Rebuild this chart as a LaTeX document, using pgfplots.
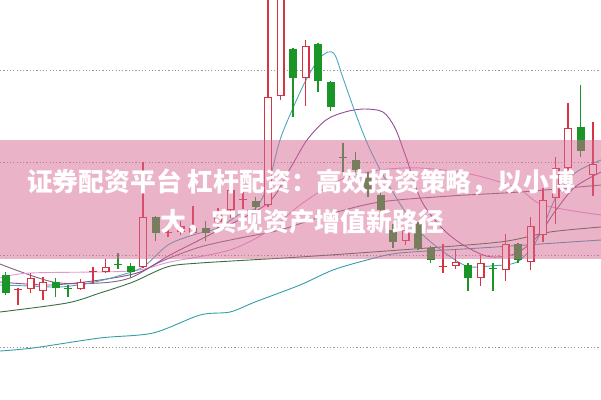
\documentclass[border=0pt]{standalone}
\usepackage{pgfplots}
\usepackage{pgfplotstable}
\pgfplotsset{compat=1.18}
\usepackage{fontspec}
\newfontfamily\cjk{Noto Sans CJK SC}

\definecolor{cred}{RGB}{214,52,66}
\definecolor{cgreen}{RGB}{26,150,40}
\definecolor{band}{RGB}{214,104,146}
\definecolor{maA}{RGB}{72,170,185}
\definecolor{maB}{RGB}{150,74,150}
\definecolor{maC}{RGB}{228,150,212}
\definecolor{maD}{RGB}{130,100,130}
\definecolor{maE}{RGB}{56,110,64}
\definecolor{maF}{RGB}{52,158,166}

% i = candle index, o h l c = open high low close
\pgfplotstableread{
i  o     h    l    c
1  109.5 112  95   110.5
2  111   127  107  122
3  109   123  100  118
6  111   121  110  118
7  127.5 133  117  128.5
8  128   141  127  133
11 133   238  132  183
13 166.5 174  163  167.5
14 168   179  165  174
15 167   194  166  172
17 178   192  172  188
18 190   217  182  210
19 199.5 208  191  200.5
21 195   410  193  303
22 304   420  300  415
24 322   360  294  354
32 159   175  155  170
35 132.5 156  127  133.5
36 134   151  131  138
38 122   145  114  137
40 130   166  119  156
42 138   183  130  174
43 165   212  158  200
44 202   243  176  232
45 232   297  229  272
47 225   278  204  236
}\up

\pgfplotstableread{
i  o     h    l    c
0  125   128  105  107
4  118   122  103  112
5  112   115  103  111
9  136   147  131  135
10 134   137  122  128
12 183   184  159  167
16 172   179  159  167
20 199   203  190  193
23 351   352  283  322
25 356   357  308  319
26 318   319  289  293
27 242.5 257  228  241.5
28 240   248  225  230
29 222   228  203  211
30 205   208  187  190
31 170   176  152  158
33 176   178  150  152
34 152   154  137  140
37 135   137  109  122
39 131.5 137  109  130.5
41 156   157  137  140
46 273   315  243  249
}\down

\begin{document}
\begin{tikzpicture}
\begin{axis}[
  width=601bp, height=400bp, scale only axis,
  xmin=0, xmax=601, ymin=0, ymax=400,
  hide axis,
  every axis plot/.append style={line join=round},
]
% keep the full frame as the picture's size
\path (rel axis cs:0,0) rectangle (rel axis cs:1,1);

% dotted grid lines
\addplot[gray!80, line width=1bp, dash pattern=on 1.2bp off 2.1bp]
  coordinates {(0,329) (601,329)};
\addplot[gray!80, line width=1bp, dash pattern=on 1.2bp off 2.1bp]
  coordinates {(0,237) (601,237)};
\addplot[gray!80, line width=1bp, dash pattern=on 1.2bp off 2.1bp]
  coordinates {(0,144) (601,144)};
\addplot[gray!80, line width=1bp, dash pattern=on 1.2bp off 2.1bp]
  coordinates {(0,52) (601,52)};

% moving averages
\addplot[maF, line width=0.9bp, smooth, tension=0.5] coordinates {
  (0,49) (33,52) (100,62) (153,67) (200,85) (230,88) (255,98) (300,115)
  (333,130) (367,140) (400,147) (480,152) (601,160)};
\addplot[maE, line width=0.9bp, smooth, tension=0.5] coordinates {
  (0,88) (67,97) (100,107) (133,118) (167,133) (200,137) (300,143)
  (400,150) (500,158) (550,168) (601,173)};
\addplot[maD, line width=0.9bp, smooth, tension=0.5] coordinates {
  (0,136) (53,118) (100,117) (130,122) (160,138) (200,153) (240,162)
  (280,170) (330,186) (380,198) (450,204) (520,208) (601,215)};
\addplot[maC, line width=0.9bp, smooth, tension=0.5] coordinates {
  (0,122) (30,127) (130,129) (170,138) (230,150) (270,170) (300,195)
  (340,220) (380,230) (420,232) (470,226) (517,212) (543,195) (601,185)};
\addplot[maB, line width=0.9bp, smooth, tension=0.5] coordinates {
  (0,118) (50,115) (100,120) (140,128) (170,145) (215,168) (268,197)
  (291,233) (307,260) (326,280) (345,288) (364,291) (383,288) (395,272)
  (406,243) (421,200) (441,173) (460,157) (483,145) (498,143) (517,147)
  (537,163) (556,190) (575,213) (601,228)};
\addplot[maA, line width=0.9bp, smooth, tension=0.5] coordinates {
  (0,115) (30,114) (60,113) (90,117) (118,124) (143,133) (168,155)
  (193,165) (218,172) (243,188) (256,192) (268,215) (280,260) (293,292)
  (305,318) (318,340) (328,348) (335,345) (343,322) (355,288) (368,255)
  (383,225) (402,193) (421,167) (441,150) (460,137) (471,133) (490,134)
  (517,138) (537,160) (556,203) (575,227) (601,240)};

% wicks
\addplot[draw=none, mark=none, error bars/.cd, y dir=minus, y explicit,
  error mark=none, error bar style={draw=cred, line width=1.3bp}]
  table[x expr=5.5+12.5*\thisrow{i}, y=h,
        y error minus expr=\thisrow{h}-\thisrow{l}] {\up};
\addplot[draw=none, mark=none, error bars/.cd, y dir=minus, y explicit,
  error mark=none, error bar style={draw=cgreen, line width=1.3bp}]
  table[x expr=5.5+12.5*\thisrow{i}, y=h,
        y error minus expr=\thisrow{h}-\thisrow{l}] {\down};

% bodies
\addplot[draw=none, mark=none, error bars/.cd, y dir=minus, y explicit,
  error mark=none, error bar style={draw=cred, line width=8bp}]
  table[x expr=5.5+12.5*\thisrow{i}, y=c,
        y error minus expr=\thisrow{c}-\thisrow{o}] {\up};
\addplot[draw=none, mark=none, error bars/.cd, y dir=minus, y explicit,
  error mark=none, error bar style={draw=white, line width=5.4bp}]
  table[x expr=5.5+12.5*\thisrow{i}, y expr=\thisrow{c}-1.3,
        y error minus expr={max(\thisrow{c}-\thisrow{o}-2.6,0)}] {\up};
\addplot[draw=none, mark=none, error bars/.cd, y dir=minus, y explicit,
  error mark=none, error bar style={draw=cgreen, line width=8bp}]
  table[x expr=5.5+12.5*\thisrow{i}, y=o,
        y error minus expr=\thisrow{o}-\thisrow{c}] {\down};

% pink banner
\addplot[draw=none, fill=band, fill opacity=0.5]
  coordinates {(0,141) (601,141) (601,260) (0,260)} -- cycle;

\node[text=white, font=\cjk\bfseries\fontsize{25.8bp}{30bp}\selectfont]
  at (301,218) {证券配资平台 杠杆配资：高效投资策略，以小博};
\node[text=white, font=\cjk\bfseries\fontsize{25.8bp}{30bp}\selectfont]
  at (302,178) {大，实现资产增值新路径};
\end{axis}
\end{tikzpicture}
\end{document}
